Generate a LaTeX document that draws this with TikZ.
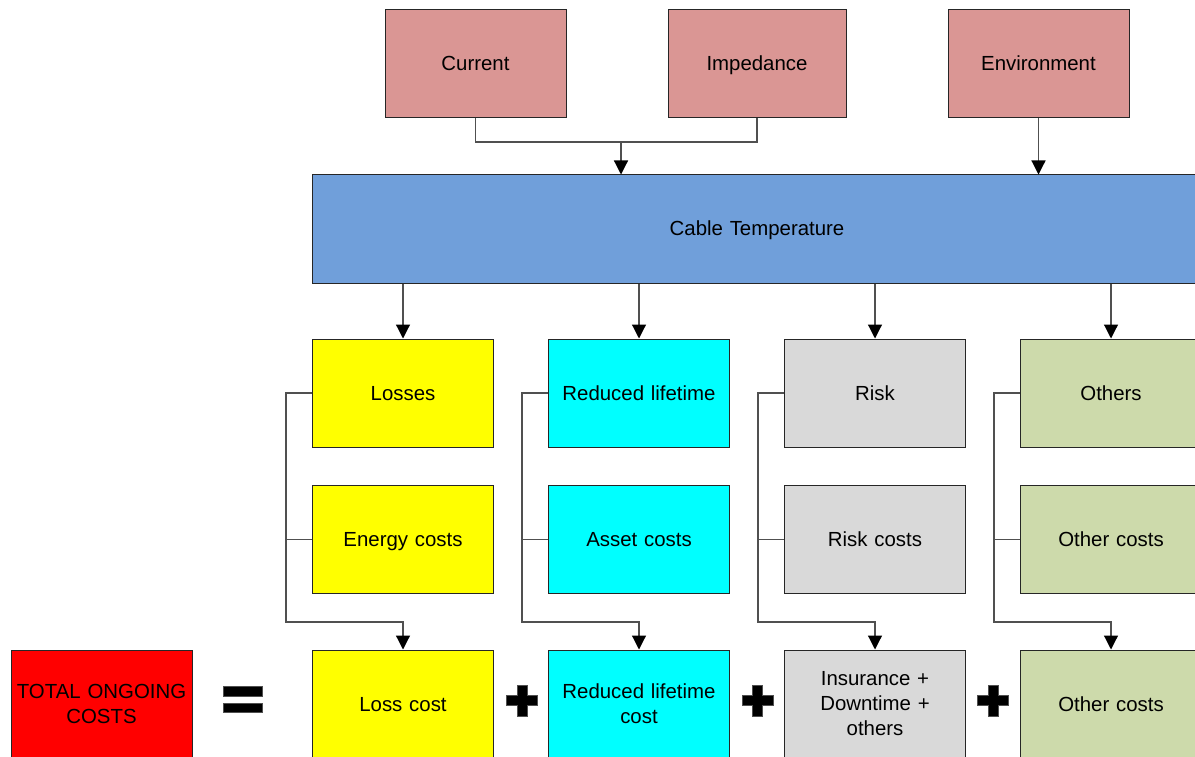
\documentclass[tikz,border=0pt]{standalone}
\usepackage{fontspec}
\setmainfont{Liberation Sans}
\usetikzlibrary{arrows.meta,calc}
\definecolor{cpink}{HTML}{DA9694}
\definecolor{cblue}{HTML}{709FDA}
\definecolor{cyel}{HTML}{FFFF00}
\definecolor{ccyan}{HTML}{00FFFF}
\definecolor{cgray}{HTML}{D9D9D9}
\definecolor{cgreen}{HTML}{CDDAAB}
\definecolor{cred}{HTML}{FF0000}
\definecolor{cline}{HTML}{505050}
\tikzset{
  box/.style={draw=black!85, line width=1pt, minimum width=181pt, minimum height=108pt,
    inner sep=0pt, align=center, text width=175pt,
    font=\fontsize{20.4}{25}\selectfont},
  sl/.style={box, text height=15pt, text depth=1pt},
  conn/.style={draw=cline, line width=1.2pt},
  arr/.style={conn, -{Triangle[width=14pt,length=14pt]}, arrows={[color=black]}},
  sym/.style={fill=black, draw=cline, line width=0.6pt}
}
\begin{document}
\begin{tikzpicture}[x=1pt,y=-1pt]
\useasboundingbox[fill=white] (0,0) rectangle (1195,757);
% top inputs
\node[sl, fill=cpink] (cur) at (475.5,64) {Current};
\node[sl, fill=cpink, minimum width=178pt] (imp) at (757,64) {Impedance};
\node[sl, fill=cpink] (env) at (1038.5,64) {Environment};
% cable temperature
\node[sl, fill=cblue, minimum width=890pt, text width=880pt] (cab) at (757,229) {Cable Temperature};
% columns
\node[sl, fill=cyel] (l1) at (403,393) {Losses};
\node[sl, fill=cyel] (l2) at (403,539.5) {Energy costs};
\node[sl, fill=cyel] (l3) at (403,704) {Loss cost};
\node[sl, fill=ccyan] (r1) at (639,393) {Reduced lifetime};
\node[sl, fill=ccyan] (r2) at (639,539.5) {Asset costs};
\node[box, fill=ccyan] (r3) at (639,704) {Reduced lifetime\\cost};
\node[sl, fill=cgray] (k1) at (875,393) {Risk};
\node[sl, fill=cgray] (k2) at (875,539.5) {Risk costs};
\node[box, fill=cgray] (k3) at (875,704) {Insurance +\\Downtime +\\others};
\node[sl, fill=cgreen] (o1) at (1111,393) {Others};
\node[sl, fill=cgreen] (o2) at (1111,539.5) {Other costs};
\node[sl, fill=cgreen] (o3) at (1111,704) {Other costs};
\node[box, fill=cred] (tot) at (101.5,704) {TOTAL ONGOING\\COSTS};
% inputs to cable temperature
\coordinate (j1) at (621,142);
\draw[conn] (cur.south) |- (j1) -| (imp.south);
\draw[arr] (j1) -- (j1 |- cab.north);
\draw[arr] (env.south) -- (env.south |- cab.north);
% cable temperature to row 1
\foreach \n in {l1,r1,k1,o1}{
  \draw[arr] (cab.south -| \n.north) -- (\n.north);
}
% brackets
\foreach \a/\b/\c in {l1/l2/l3,r1/r2/r3,k1/k2/k3,o1/o2/o3}{
  \coordinate (b\a) at ($(\a.west)+(-26,0)$);
  \coordinate (c\a) at (b\a |- \b.west);
  \coordinate (d\a) at ($(c\a)+(0,82.5)$);
  \draw[conn] (\a.west) -- (b\a) -- (c\a) -- (\b.west);
  \draw[arr] (c\a) -- (d\a) -| (\c.north);
}
% equals sign
\node[sym, minimum width=39pt, minimum height=9.5pt, inner sep=0pt] (eq1) at (242.5,691.5) {};
\node[sym, minimum width=39pt, minimum height=9.5pt, inner sep=0pt] (eq2) at (242.5,708) {};
% plus signs
\foreach \x/\nm in {522/p1,757.5/p2,993/p3}{
  \coordinate (\nm) at (\x,700.5);
  \path[sym] ($(\nm)+(-5,-15.5)$) -- ++(10,0) -- ++(0,10.5) -- ++(10.5,0) -- ++(0,10)
    -- ++(-10.5,0) -- ++(0,10.5) -- ++(-10,0) -- ++(0,-10.5) -- ++(-10.5,0)
    -- ++(0,-10) -- ++(10.5,0) -- cycle;
}
\end{tikzpicture}
\end{document}
